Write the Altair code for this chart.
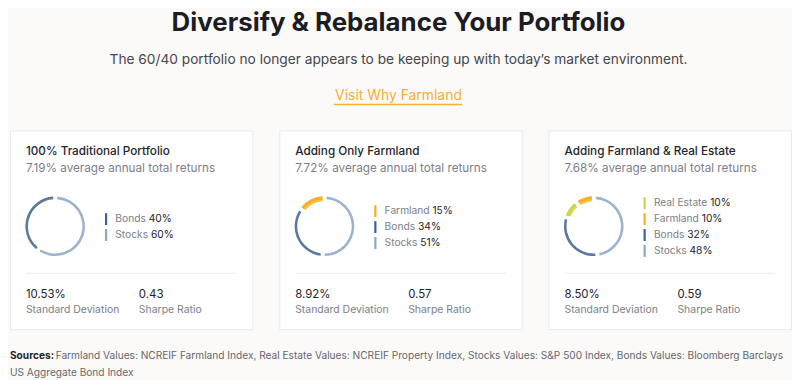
import altair as alt
import pandas as pd

# ---------------- data ----------------
TITLE = "Diversify & Rebalance Your Portfolio"
SUBTITLE = "The 60/40 portfolio no longer appears to be keeping up with today’s market environment."
LINK = "Visit Why Farmland"

card_titles = ["100% Traditional Portfolio", "Adding Only Farmland", "Adding Farmland & Real Estate"]
card_returns = ["7.19%", "7.72%", "7.68%"]
std_devs = ["10.53%", "8.92%", "8.50%"]
sharpe_ratios = ["0.43", "0.57", "0.59"]

# allocations, in legend order
alloc_labels = [["Bonds", "Stocks"],
                ["Farmland", "Bonds", "Stocks"],
                ["Real Estate", "Farmland", "Bonds", "Stocks"]]
alloc_values = [[40, 60],
                [15, 34, 51],
                [10, 10, 32, 48]]
# clockwise order of the ring segments, starting at 12 o'clock
ring_order = [["Stocks", "Bonds"],
              ["Stocks", "Bonds", "Farmland"],
              ["Stocks", "Bonds", "Real Estate", "Farmland"]]

asset_names = ["Real Estate", "Farmland", "Bonds", "Stocks"]
asset_colors = ["#c9d440", "#f7ae1c", "#3d6190", "#8aa6c6"]
thick_assets = ["Farmland", "Real Estate"]

SOURCES_BOLD = "Sources:"
SOURCES_LINE1 = ("Farmland Values: NCREIF Farmland Index, Real Estate Values: NCREIF Property Index, "
                 "Stocks Values: S&P 500 Index, Bonds Values: Bloomberg Barclays")
SOURCES_LINE2 = "US Aggregate Bond Index"

# ---------------- style ----------------
FONT = "Inter"
DARK = "#24252b"
GRAY = "#7d8089"
ORANGE = "#f4b030"
CARD_W, CARD_H, GAP = 244, 200, 25
TOTAL_W = 3 * CARD_W + 2 * GAP

color_scale = alt.Scale(domain=asset_names, range=asset_colors)

# ---------------- header ----------------
hdr = alt.Chart(pd.DataFrame({"title": [TITLE], "sub": [SUBTITLE], "link": [LINK]}))
header = alt.layer(
    hdr.mark_text(font=FONT, fontSize=26, fontWeight="bold", color="#1c1d24").encode(
        text="title:N", x=alt.value(TOTAL_W / 2), y=alt.value(13)),
    hdr.mark_text(font=FONT, fontSize=13.8, color="#45464d").encode(
        text="sub:N", x=alt.value(TOTAL_W / 2), y=alt.value(50)),
    hdr.mark_text(font=FONT, fontSize=14, color=ORANGE).encode(
        text="link:N", x=alt.value(TOTAL_W / 2), y=alt.value(86)),
    hdr.mark_rule(color=ORANGE, strokeWidth=1.5).encode(
        x=alt.value(326), x2=alt.value(455), y=alt.value(95)),
).properties(width=TOTAL_W, height=119)


# ---------------- cards ----------------
def make_card(i):
    labels = alloc_labels[i]
    vals = alloc_values[i]
    n = len(labels)
    df = pd.DataFrame({"asset": labels, "pct": vals})
    df["ring"] = [ring_order[i].index(a) for a in labels]
    df["full"] = [f"{a} {v}%" for a, v in zip(labels, vals)]
    df["thick"] = [a in thick_assets for a in labels]

    info = pd.DataFrame({
        "title": [card_titles[i]],
        "ret": [f"{card_returns[i]} average annual total returns"],
        "sd": [std_devs[i]],
        "sr": [sharpe_ratios[i]],
        "sdl": ["Standard Deviation"],
        "srl": ["Sharpe Ratio"],
    })
    base = alt.Chart(df)
    ib = alt.Chart(info)

    cx, cy = 45.5, 96.5
    ly = 97.3
    Y = alt.Y("asset:N", sort=labels, axis=None,
              scale=alt.Scale(type="point", domain=labels, padding=0,
                              range=[ly - (n - 1) * 8, ly + (n - 1) * 8]))

    ring = base.mark_arc(innerRadius=27.4, outerRadius=30, padAngle=0.1, opacity=0.85).encode(
        theta=alt.Theta("pct:Q", stack=True),
        order=alt.Order("ring:Q"),
        color=alt.Color("asset:N", scale=color_scale, legend=None),
        x=alt.value(cx), y=alt.value(cy))
    ring_thick = base.mark_arc(innerRadius=25.4, outerRadius=30.2, padAngle=0.1).encode(
        theta=alt.Theta("pct:Q", stack=True),
        order=alt.Order("ring:Q"),
        color=alt.Color("asset:N", scale=color_scale, legend=None),
        opacity=alt.condition(alt.datum.thick, alt.value(0.8), alt.value(0)),
        x=alt.value(cx), y=alt.value(cy))

    ticks = base.mark_tick(orient="vertical", thickness=2.2, size=12, opacity=1).encode(
        x=alt.value(96.7), y=Y,
        color=alt.Color("asset:N", scale=color_scale, legend=None))
    leg_kw = dict(align="left", font=FONT, fontSize=10.3)
    leg_full = base.mark_text(color=DARK, **leg_kw).encode(
        text="full:N", x=alt.value(106), y=Y)
    # erase the name part of the dark string, then write it again in grey
    leg_erase = base.mark_text(fill="#ffffff", stroke="#ffffff", strokeWidth=1.6, **leg_kw).encode(
        text="asset:N", x=alt.value(106), y=Y)
    leg_lab = base.mark_text(color=GRAY, **leg_kw).encode(
        text="asset:N", x=alt.value(106), y=Y)

    t_title = ib.mark_text(align="left", font=FONT, fontSize=11.8, fontWeight=500, color=DARK).encode(
        text="title:N", x=alt.value(16), y=alt.value(20.3))
    t_ret = ib.mark_text(align="left", font=FONT, fontSize=11.8, color=GRAY).encode(
        text="ret:N", x=alt.value(16), y=alt.value(38))
    sep = ib.mark_rule(color="#ececec", strokeWidth=1).encode(
        x=alt.value(16), x2=alt.value(228), y=alt.value(143.7))
    t_sd = ib.mark_text(align="left", font=FONT, fontSize=11.5, color=DARK).encode(
        text="sd:N", x=alt.value(16), y=alt.value(165.3))
    t_sdl = ib.mark_text(align="left", font=FONT, fontSize=10.5, color=GRAY).encode(
        text="sdl:N", x=alt.value(16), y=alt.value(180.3))
    t_sr = ib.mark_text(align="left", font=FONT, fontSize=11.5, color=DARK).encode(
        text="sr:N", x=alt.value(129.7), y=alt.value(165.3))
    t_srl = ib.mark_text(align="left", font=FONT, fontSize=10.5, color=GRAY).encode(
        text="srl:N", x=alt.value(129.7), y=alt.value(180.3))

    return alt.layer(ring, ring_thick, ticks, leg_full, leg_erase, leg_lab,
                     t_title, t_ret, sep, t_sd, t_sdl, t_sr, t_srl).properties(
        width=CARD_W, height=CARD_H,
        view=alt.ViewBackground(fill="#ffffff", stroke="#eaeaea", strokeWidth=1))


cards = alt.hconcat(*[make_card(i) for i in range(3)], spacing=GAP)

# ---------------- footer ----------------
ft = alt.Chart(pd.DataFrame({"b": [SOURCES_BOLD], "l1": [SOURCES_LINE1], "l2": [SOURCES_LINE2]}))
footer = alt.layer(
    ft.mark_text(align="left", font=FONT, fontSize=10.2, fontWeight="bold", color="#222228").encode(
        text="b:N", x=alt.value(0), y=alt.value(25)),
    ft.mark_text(align="left", font=FONT, fontSize=10.2, color="#66676e").encode(
        text="l1:N", x=alt.value(46), y=alt.value(25)),
    ft.mark_text(align="left", font=FONT, fontSize=10.2, color="#66676e").encode(
        text="l2:N", x=alt.value(0), y=alt.value(42)),
).properties(width=TOTAL_W, height=47)

chart = alt.vconcat(header, cards, footer, spacing=0).properties(
    padding={"left": 1, "top": 0, "right": 0, "bottom": 0},
    background="#fbfaf9",
).configure_view(stroke="transparent")

chart.save("out.html", embed_options={"renderer": "svg", "actions": False})
